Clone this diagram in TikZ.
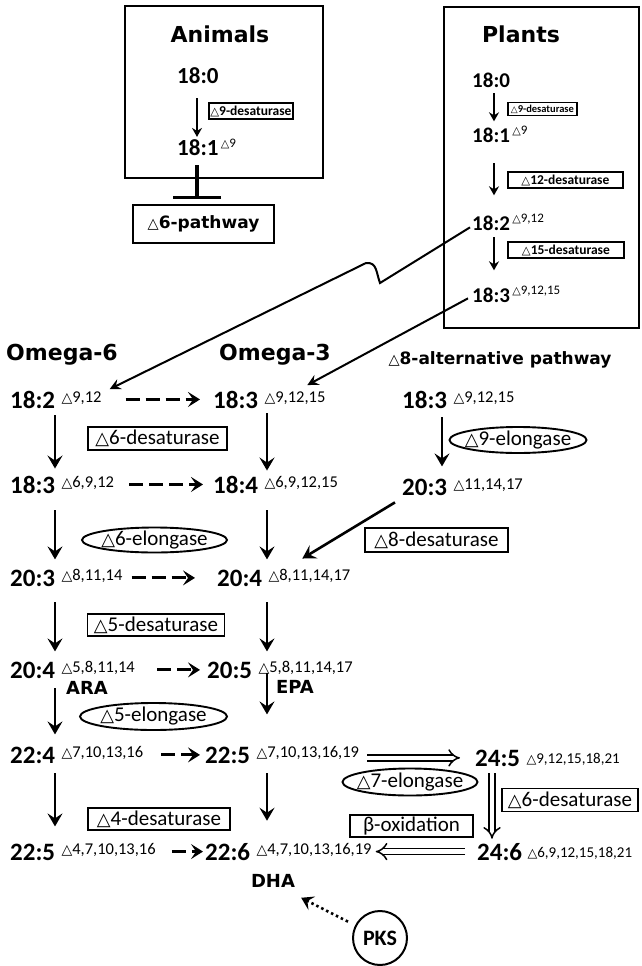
\documentclass[tikz,border=0pt]{standalone}
\usepackage{fontspec}
\setmainfont{Carlito}
\newfontfamily\heavy{DejaVu Sans}
\newfontfamily\symf{DejaVu Sans}
\usetikzlibrary{arrows.meta,shapes.geometric}
\newcommand\tri{\scalebox{0.85}{\symf △}}
\newcommand\fs[1]{\fontsize{#1}{#1}\selectfont}
\begin{document}
\begin{tikzpicture}[x=1pt,y=-1pt,
  num/.style={font=\bfseries\fs{25}, inner sep=0, anchor=base west},
  anum/.style={font=\bfseries\fs{23}, inner sep=0, anchor=base west},
  pnum/.style={font=\bfseries\fs{21}, inner sep=0, anchor=base west},
  sup/.style={font=\fs{16.5}, inner sep=0, anchor=base west},
  psup/.style={font=\fs{13}, inner sep=0, anchor=base west},
  title/.style={font=\heavy\bfseries\fs{22}, inner sep=0},
  tag/.style={font=\heavy\bfseries\fs{18}, inner sep=0},
  bigbox/.style={draw, line width=1.3, inner sep=0},
  sbox/.style={draw, line width=1.8, font=\bfseries\fs{13.5}, inner sep=1.5},
  pbox/.style={draw, line width=2, font=\heavy\bfseries\fs{17}, minimum width=141, minimum height=38, inner sep=2},
  rbox/.style={draw, line width=1.9, font=\fs{21}, inner sep=1, minimum height=22},
  ebox/.style={draw, ellipse, line width=1.9, font=\fs{21}, inner xsep=-12, inner ysep=-3},
  sarr/.style={line width=2, -{Stealth[length=9,width=10,inset=3]}},
  varr/.style={line width=2.6, -{Stealth[length=13,width=15,inset=5]}},
  harr/.style={line width=2.8, dash pattern=on 14 off 6, -{Stealth[length=12,width=15,inset=5]}},
  larr/.style={line width=2, -{Stealth[length=11,width=11,inset=4]}},
  hol/.style={double, double distance=4.5, line width=1.5, -{Implies}},
  dotarr/.style={line width=2.6, dash pattern=on 2.5 off 3, -{Stealth[length=12,width=15,inset=5]}}
]
\useasboundingbox (0,0) rectangle (641,966);
\coordinate (cAn) at (197,0);
\coordinate (cP) at (494,0);
\coordinate (c6) at (55,0);
\coordinate (c3) at (267,0);
\coordinate (cAl) at (442,0);
\coordinate (cQ) at (492,0);

% Animals
\node[bigbox, minimum width=198, minimum height=172] (anbox) at (224,92) {};
\node[title] (ant) at (220,34) {Animals};
\node[anum] (a0) at (177,83) {18:0};
\node[anum] (a1) at (177,155) {18:1};
\node[psup] (a1s) at ([xshift=2,yshift=8]a1.base east) {\tri9};
\node[sbox, anchor=west, minimum height=16] (a9) at (208,111) {\tri9-desaturase};
\node[pbox] (pw) at (203.5,224) {\tri6-pathway};
\draw[sarr, shorten <=15, shorten >=2] (a0.south -| cAn) -- (a1.north -| cAn);
\draw[line width=3.5, -{Bar[width=48]}, shorten <=10, shorten >=5] (a1.south -| cAn) -- (pw.north -| cAn);

% Plants
\node[bigbox, minimum width=195, minimum height=321] (plbox) at (541.5,167.5) {};
\node[title] (plt) at (521,34) {Plants};
\node[pnum] (p0) at (472,88) {18:0};
\node[pnum] (p1) at (472,142) {18:1};
\node[pnum] (p2) at (472,230) {18:2};
\node[pnum] (p3) at (472,302) {18:3};
\node[psup] (p1s) at ([xshift=2,yshift=8]p1.base east) {\tri9};
\node[psup] (p2s) at ([xshift=2,yshift=8]p2.base east) {\tri9,12};
\node[psup] (p3s) at ([xshift=2,yshift=8]p3.base east) {\tri9,12,15};
\node[sbox, font=\bfseries\fs{10.5}, anchor=west, minimum width=69, minimum height=13] (p9) at (507,109) {\tri9-desaturase};
\node[sbox, anchor=west, minimum width=115, minimum height=16] (p12) at (507,180) {\tri12-desaturase};
\node[sbox, anchor=west, minimum width=116, minimum height=16] (p15) at (507,250) {\tri15-desaturase};
\draw[sarr, shorten <=5, shorten >=6] (p0.south -| cP) -- (p1.north -| cP);
\draw[sarr, shorten <=21, shorten >=20] (p1.south -| cP) -- (p2.north -| cP);
\draw[sarr, shorten <=7, shorten >=17] (p2.south -| cP) -- (p3.north -| cP);

% titles
\node[title] (o6t) at (62,355) {Omega-6};
\node[title] (o3t) at (275,355) {Omega-3};
\node[title, font=\heavy\bfseries\fs{17}] (altt) at (500,360) {\tri8-alternative pathway};

% Omega-6
\node[num] (o6r1) at (10,408) {18:2};
\node[num] (o6r2) at (10,493) {18:3};
\node[num] (o6r3) at (10,586) {20:3};
\node[num] (o6r4) at (10,678) {20:4};
\node[num] (o6r5) at (10,763) {22:4};
\node[num] (o6r6) at (10,860) {22:5};
\node[sup] (o6s1) at ([xshift=6,yshift=6]o6r1.base east) {\tri9,12};
\node[sup] (o6s2) at ([xshift=6,yshift=6]o6r2.base east) {\tri6,9,12};
\node[sup] (o6s3) at ([xshift=6,yshift=6]o6r3.base east) {\tri8,11,14};
\node[sup] (o6s4) at ([xshift=6,yshift=6]o6r4.base east) {\tri5,8,11,14};
\node[sup] (o6s5) at ([xshift=6,yshift=6]o6r5.base east) {\tri7,10,13,16};
\node[sup] (o6s6) at ([xshift=6,yshift=6]o6r6.base east) {\tri4,7,10,13,16};
\node[tag] (ara) at (87,688) {ARA};

% Omega-3
\node[num] (o3r1) at (213,408) {18:3};
\node[num] (o3r2) at (213,493) {18:4};
\node[num] (o3r3) at (217,586) {20:4};
\node[num] (o3r4) at (207,678) {20:5};
\node[num] (o3r5) at (205,763) {22:5};
\node[num] (o3r6) at (205,860) {22:6};
\node[sup] (o3s1) at ([xshift=6,yshift=6]o3r1.base east) {\tri9,12,15};
\node[sup] (o3s2) at ([xshift=6,yshift=6]o3r2.base east) {\tri6,9,12,15};
\node[sup] (o3s3) at ([xshift=6,yshift=6]o3r3.base east) {\tri8,11,14,17};
\node[sup] (o3s4) at ([xshift=6,yshift=6]o3r4.base east) {\tri5,8,11,14,17};
\node[sup] (o3s5) at ([xshift=6,yshift=6]o3r5.base east) {\tri7,10,13,16,19};
\node[sup] (o3s6) at ([xshift=6,yshift=6]o3r6.base east) {\tri4,7,10,13,16,19};
\node[tag] (epa) at (295,687) {EPA};
\node[tag] (dha) at (273,881) {DHA};

% alternative
\node[num] (al1) at (402,408) {18:3};
\node[num] (al2) at (402,495) {20:3};
\node[sup] (als1) at ([xshift=6,yshift=6]al1.base east) {\tri9,12,15};
\node[sup] (als2) at ([xshift=6,yshift=6]al2.base east) {\tri11,14,17};

% C24
\node[num] (q5) at (475,766) {24:5};
\node[num] (q6) at (477,860) {24:6};
\node[sup, font=\fs{15}] (qs5) at ([xshift=6,yshift=3]q5.base east) {\tri9,12,15,18,21};
\node[sup, font=\fs{15}] (qs6) at ([xshift=5,yshift=3]q6.base east) {\tri6,9,12,15,18,21};

% enzymes
\node[rbox, minimum width=139, minimum height=23] (e6d) at (157.5,438.5) {\tri6-desaturase};
\node[ebox, minimum width=145, minimum height=25] (e6e) at (154.5,540) {\tri6-elongase};
\node[ebox, minimum width=137, minimum height=26] (e9e) at (518,440) {\tri9-elongase};
\node[rbox, minimum width=143, minimum height=24] (e8d) at (436.5,540) {\tri8-desaturase};
\node[rbox, minimum width=137, minimum height=22] (e5d) at (156,625) {\tri5-desaturase};
\node[ebox, minimum width=147, minimum height=27] (e5e) at (153.5,716.5) {\tri5-elongase};
\node[rbox, minimum width=142, minimum height=22] (e4d) at (159,819) {\tri4-desaturase};
\node[ebox, minimum width=135, minimum height=27] (e7e) at (410,782) {\tri7-elongase};
\node[rbox, minimum width=136, minimum height=23] (e6d2) at (570,800) {\tri6-desaturase};
\node[rbox, minimum width=123, minimum height=22] (box) at (411.5,826) {β-oxidation};

\node[circle, draw, line width=2, minimum size=54, inner sep=0, font=\bfseries\fs{22}] (pks) at (380,938) {PKS};

% vertical arrows omega-6
\draw[varr, shorten <=7, shorten >=7] (o6r1.south -| c6) -- (o6r2.north -| c6);
\draw[varr, shorten <=17, shorten >=10] (o6r2.south -| c6) -- (o6r3.north -| c6);
\draw[varr, shorten <=16, shorten >=10] (o6r3.south -| c6) -- (o6r4.north -| c6);
\draw[varr, shorten <=10, shorten >=12] (o6r4.south -| c6) -- (o6r5.north -| c6);
\draw[varr, shorten <=10, shorten >=17] (o6r5.south -| c6) -- (o6r6.north -| c6);
% vertical arrows omega-3
\draw[varr, shorten <=5, shorten >=5] (o3r1.south -| c3) -- (o3r2.north -| c3);
\draw[varr, shorten <=17, shorten >=10] (o3r2.south -| c3) -- (o3r3.north -| c3);
\draw[varr, shorten <=16, shorten >=10] (o3r3.south -| c3) -- (o3r4.north -| c3);
\draw[varr, shorten <=-5, shorten >=32] (o3r4.south -| c3) -- (o3r5.north -| c3);
\draw[varr, shorten <=10, shorten >=22] (o3r5.south -| c3) -- (o3r6.north -| c3);
% alternative
\draw[varr, shorten <=9, shorten >=12] (al1.south -| cAl) -- (al2.north -| cAl);
\draw[varr] ([xshift=-7,yshift=-7]al2.south west) -- ([xshift=34,yshift=10]o3s3.north west);

% dashed horizontal
\draw[harr, shorten <=24, shorten >=13] (o6s1.east |- o3r1.west) -- (o3r1.west);
\draw[harr, shorten <=15, shorten >=10] (o6s2.east |- o3r2.west) -- (o3r2.west);
\draw[harr, shorten <=9, shorten >=22] (o6s3.east |- o3r3.west) -- (o3r3.west);
\draw[harr, shorten <=22, shorten >=7] (o6s4.east |- o3r4.west) -- (o3r4.west);
\draw[harr, shorten <=18, shorten >=5] (o6s5.east |- o3r5.west) -- (o3r5.west);
\draw[harr, shorten <=16, shorten >=2] (o6s6.east |- o3r6.west) -- (o3r6.west);

% plants to omega
\draw[larr] ([xshift=-2,yshift=3]p2.south west) -- (380,283) .. controls (376,272) and (377,262) .. (366,263) -- ([xshift=8,yshift=2]o6s1.north east);
\draw[larr] ([xshift=-4,yshift=4]p3.south west) -- ([xshift=43,yshift=6]o3s1.north west);

% hollow arrows
\draw[hol, shorten <=8, shorten >=15] (o3s5.east |- q5.west) -- (q5.west);
\draw[hol, shorten <=7, shorten >=4] (q5.south -| cQ) -- (q6.north -| cQ);
\draw[hol, shorten <=12, shorten >=4] (q6.west) -- (o3s6.east |- q6.west);

% PKS
\draw[dotarr, shorten <=8] (pks) -- ([xshift=6,yshift=-10]dha.south east);
\end{tikzpicture}
\end{document}
